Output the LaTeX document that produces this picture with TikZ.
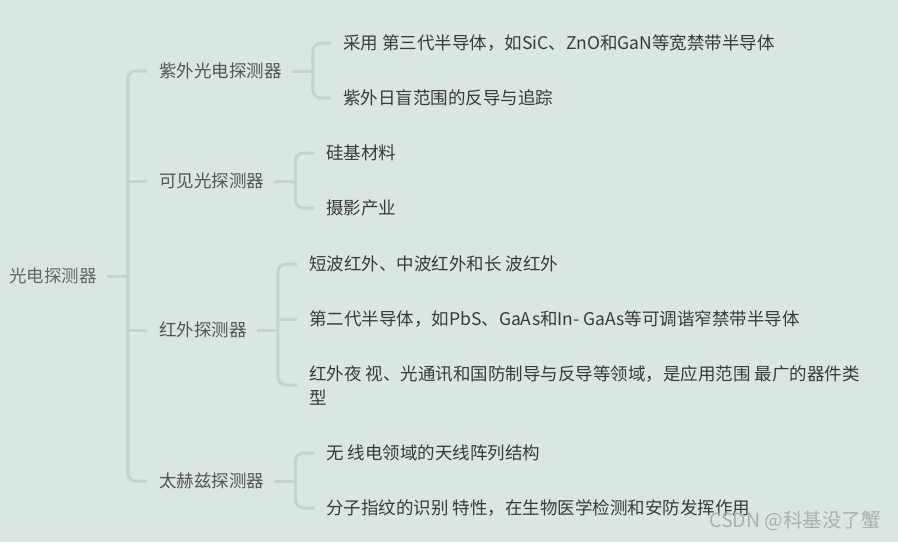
\documentclass[tikz,border=0pt]{standalone}
\usepackage{fontspec}
\newfontfamily\cjk{Noto Sans CJK SC}
\definecolor{bgmap}{HTML}{DAE6E3}
\definecolor{linkcol}{HTML}{C5D2CF}
\definecolor{rootcol}{HTML}{666666}
\definecolor{topiccol}{HTML}{555555}
\definecolor{leafcol}{HTML}{3A3A3A}
\definecolor{markcol}{HTML}{A9B0AE}
\tikzset{
  topic/.style={anchor=west, inner sep=0pt, font=\cjk\fontsize{17.5}{24}\selectfont},
  roottopic/.style={topic, text=rootcol},
  subtopic/.style={topic, text=topiccol},
  leaf/.style={topic, text=leafcol, align=left},
  link/.style={linkcol, line width=3pt, rounded corners=8pt},
}

\begin{document}
\begin{tikzpicture}[x=1pt,y=-1pt]
	\fill[bgmap] (0,0) rectangle (898,542);
	\useasboundingbox (0,0) rectangle (898,542);
	% root and main branches
	\node[roottopic] (root) at (9,276) {光电探测器};
	\node[subtopic] (uv)  at (159,71)  {紫外光电探测器};
	\node[subtopic] (vis) at (159,181) {可见光探测器};
	\node[subtopic] (ir)  at (159,330) {红外探测器};
	\node[subtopic] (thz) at (159,481) {太赫兹探测器};
	% leaves
	\node[leaf] (uv1)  at (343,43)  {采用 第三代半导体，如SiC、ZnO和GaN等宽禁带半导体};
	\node[leaf] (uv2)  at (343,98)  {紫外日盲范围的反导与追踪};
	\node[leaf] (vis1) at (326,153) {硅基材料};
	\node[leaf] (vis2) at (326,208) {摄影产业};
	\node[leaf] (ir1)  at (309,264) {短波红外、中波红外和长 波红外};
	\node[leaf] (ir2)  at (309,319) {第二代半导体，如PbS、GaAs和In- GaAs等可调谐窄禁带半导体};
	\node[leaf] (ir3)  at (309,385) {红外夜 视、光通讯和国防制导与反导等领域，是应用范围 最广的器件类\\型};
	\node[leaf] (thz1) at (326,453) {无 线电领域的天线阵列结构};
	\node[leaf] (thz2) at (326,508) {分子指纹的识别 特性，在生物医学检测和安防发挥作用};
	% forks
	\draw[link] ([xshift=10]root.east) -- ++(21,0) coordinate (j0);
	\draw[link] (j0) |- ([xshift=-12]uv.west);
	\draw[link,sharp corners] (j0) |- ([xshift=-12]vis.west);
	\draw[link,sharp corners] (j0) |- ([xshift=-12]ir.west);
	\draw[link] (j0) |- ([xshift=-12]thz.west);

	\draw[link] ([xshift=10]uv.east) -- ++(21,0) coordinate (j1);
	\draw[link] (j1) |- ([xshift=-12]uv1.west);
	\draw[link] (j1) |- ([xshift=-12]uv2.west);

	\draw[link] ([xshift=10]vis.east) -- ++(21,0) coordinate (j2);
	\draw[link] (j2) |- ([xshift=-12]vis1.west);
	\draw[link] (j2) |- ([xshift=-12]vis2.west);

	\draw[link] ([xshift=10]ir.east) -- ++(21,0) coordinate (j3);
	\draw[link] (j3) |- ([xshift=-12]ir1.west);
	\draw[link,sharp corners] (j3) |- ([xshift=-12]ir2.west);
	\draw[link] (j3) |- ([xshift=-12]ir3.west);

	\draw[link] ([xshift=10]thz.east) -- ++(21,0) coordinate (j4);
	\draw[link] (j4) |- ([xshift=-12]thz1.west);
	\draw[link] (j4) |- ([xshift=-12]thz2.west);
	% watermark
	\node[anchor=west, inner sep=0pt, font=\cjk\fontsize{19.5}{22}\selectfont,
		text=markcol] (mark) at (709,521) {CSDN @科基没了蟹};
\end{tikzpicture}
\end{document}
